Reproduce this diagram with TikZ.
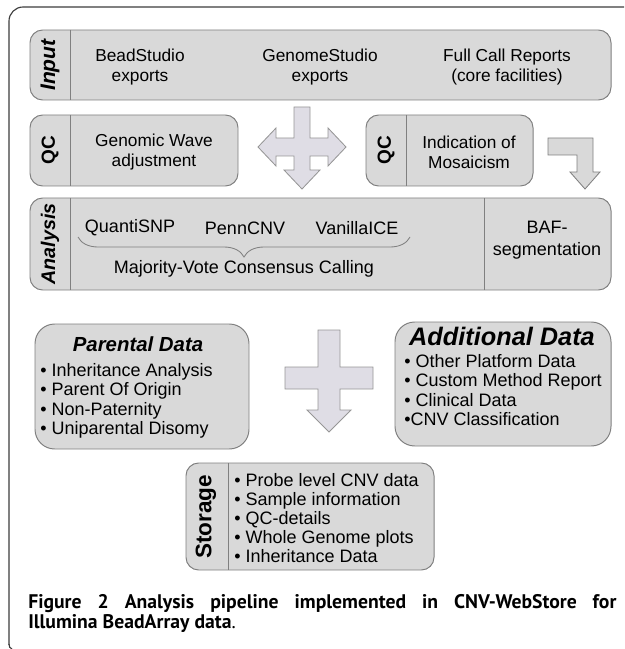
\documentclass[tikz,border=0pt]{standalone}
\usepackage{fontspec}
\setmainfont{Liberation Sans}
\newfontfamily\capfont{PT Sans}
\usetikzlibrary{decorations.pathreplacing}

\definecolor{boxgray}{RGB}{217,217,217}
\definecolor{boxline}{RGB}{128,128,128}
\definecolor{arrowfill}{RGB}{223,221,229}
\definecolor{arrowline}{RGB}{150,150,150}
\definecolor{framegray}{RGB}{60,60,60}

\begin{document}
\begin{tikzpicture}
[x=0.025cm,y=-0.025cm,
 stage/.style={draw=boxline,fill=boxgray,line width=0.7pt,rounded corners=9pt},
 divider/.style={draw=boxline,line width=0.7pt},
 sidelabel/.style={rotate=90,font=\fontsize{13.5}{15}\selectfont\bfseries,inner sep=0pt},
 txt/.style={align=center,font=\fontsize{12.3}{14.3}\selectfont,inner sep=0pt},
 panetitle/.style={font=\fontsize{14.5}{17}\selectfont\bfseries\itshape,inner sep=0pt},
 itemlist/.style={align=left,anchor=north west,font=\fontsize{12.8}{13.9}\selectfont,inner sep=0pt},
 blockarrow/.style={draw=arrowline,fill=arrowfill,line width=0.6pt},
]
\useasboundingbox (0,0) rectangle (624,649);
\draw[framegray,line width=0.8pt,rounded corners=10pt] (624,7) -- (9,7) -- (9,645);
\draw[framegray,line width=0.8pt] (9,644) .. controls (9,647) and (10,648) .. (12,649);

% input
\draw[stage] (30,30) rectangle (611,100);
\draw[divider] (70,30) -- (70,100);
\node[sidelabel,font=\fontsize{15}{17}\selectfont\bfseries\itshape] (input) at (50,65) {Input};
\node[txt] (bead) at (140,67) {BeadStudio\\exports};
\node[txt] (genome) at (320,67) {GenomeStudio\\exports};
\node[txt] (fullcall) at (507,67) {Full Call Reports\\(core facilities)};

% quality control
\draw[stage] (30,115) rectangle (238,186);
\draw[divider] (70,115) -- (70,186);
\node[sidelabel] (qcwave) at (50,150.5) {QC};
\node[txt] (wave) at (154,152) {Genomic Wave\\adjustment};

\draw[stage] (366,115) rectangle (533,186);
\draw[divider] (406,115) -- (406,186);
\node[sidelabel] (qcmosaic) at (386,150.5) {QC};
\node[txt] (mosaic) at (469,152) {Indication of\\Mosaicism};

\draw[blockarrow] (294,107) -- (310,107) -- (310,138) -- (328,138) -- (328,128) -- (346,147) -- (328,166) -- (328,156) -- (310,156) -- (310,170) -- (320,170) -- (302,189) -- (284,170) -- (294,170) -- (294,156) -- (276,156) -- (276,166) -- (258,147) -- (276,128) -- (276,138) -- (294,138) -- cycle;
\draw[blockarrow,fill=boxgray,draw=boxline] (548,138) -- (593,138) -- (593,172) -- (600,172) -- (585,189) -- (570,172) -- (577,172) -- (577,155) -- (548,155) -- cycle;

% analysis
\draw[stage] (30,198) rectangle (611,290);
\draw[divider] (70,198) -- (70,290);
\draw[divider] (484,198) -- (484,290);
\node[sidelabel,font=\fontsize{14}{15}\selectfont\bfseries\itshape] (analysis) at (50,244) {Analysis};
\node[txt,font=\fontsize{12.8}{14.3}\selectfont] (quanti) at (130,228) {QuantiSNP};
\node[txt,font=\fontsize{12.8}{14.3}\selectfont] (penn) at (245,228) {PennCNV};
\node[txt,font=\fontsize{12.8}{14.3}\selectfont] (vanilla) at (357,228) {VanillaICE};
\coordinate (braceL) at (78,237);
\coordinate (braceR) at (410,237);
\draw[boxline,line width=0.6pt,decorate,decoration={brace,mirror,amplitude=0.5cm}] (braceL) -- (braceR);
\node[txt,font=\fontsize{12.8}{14.3}\selectfont] (majority) at (244,269) {Majority-Vote Consensus Calling};
\node[txt,font=\fontsize{12.8}{15.5}\selectfont] (baf) at (547,240) {BAF-\\segmentation};

% parental and additional data
\draw[stage,rounded corners=14pt] (35,324) rectangle (249,449);
\node[panetitle] (parental) at (138,344) {Parental Data};
\node[itemlist] (parentitems) at (40,363) {\textbullet\ Inheritance Analysis\\\textbullet\ Parent Of Origin\\\textbullet\ Non-Paternity\\\textbullet\ Uniparental Disomy};

\draw[blockarrow] (318,330) -- (340,330) -- (340,367) -- (373,367) -- (373,389) -- (340,389) -- (340,410) -- (351,410) -- (329,432) -- (307,410) -- (318,410) -- (318,389) -- (285,389) -- (285,367) -- (318,367) -- cycle;

\draw[stage,rounded corners=14pt] (395,322) rectangle (611,446);
\node[panetitle,font=\fontsize{18}{20}\selectfont\bfseries\itshape] (additional) at (502,336) {Additional Data};
\node[itemlist] (additems) at (404,354) {\textbullet\ Other Platform Data\\\textbullet\ Custom Method Report\\\textbullet\ Clinical Data\\\textbullet CNV Classification};

% storage
\draw[stage] (186,463) rectangle (434,570);
\draw[divider] (228,463) -- (228,570);
\node[sidelabel,font=\fontsize{16}{18}\selectfont\bfseries] (storage) at (206,517) {Storage};
\node[itemlist,font=\fontsize{12.8}{13.5}\selectfont] (storeitems) at (234,473) {\textbullet\ Probe level CNV data\\\textbullet\ Sample information\\\textbullet\ QC-details\\\textbullet\ Whole Genome plots\\\textbullet\ Inheritance Data};

% caption
\node[anchor=west,inner sep=0pt,font=\capfont\fontsize{14}{16}\selectfont] (caption1) at (28,604) {\makebox[14.7cm][s]{\textbf{Figure 2 Analysis pipeline implemented in CNV-WebStore for}}};
\node[anchor=west,inner sep=0pt,font=\capfont\fontsize{14}{16}\selectfont] (caption2) at (28,624) {\textbf{Illumina BeadArray data}.};
\end{tikzpicture}
\end{document}
